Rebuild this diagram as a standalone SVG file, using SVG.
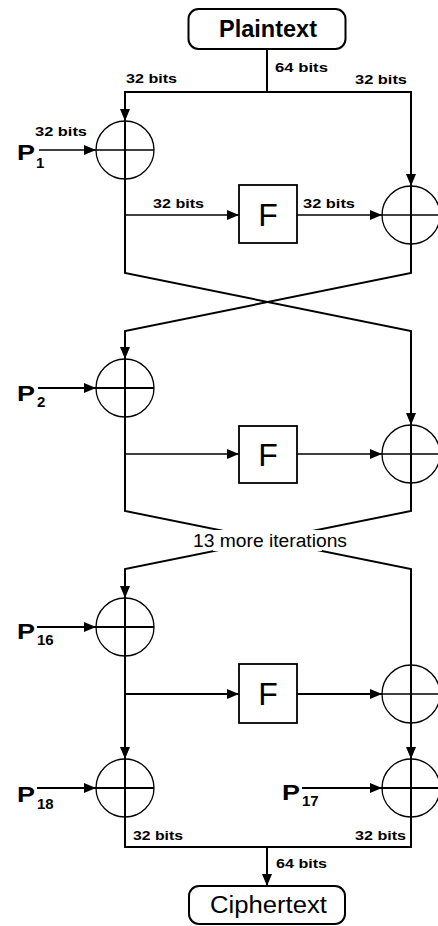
<svg xmlns="http://www.w3.org/2000/svg" width="438" height="926" viewBox="0 0 438 926">
<defs>
<marker id="arr" markerUnits="userSpaceOnUse" markerWidth="12" markerHeight="10" refX="12" refY="5" orient="auto">
<path d="M0,0 L12,5 L0,10 z" fill="#000"/>
</marker>
<style>
.bus{fill:none;stroke:#000;stroke-width:2;}
.thin{fill:none;stroke:#000;stroke-width:1.3;}
.xor{fill:none;stroke:#000;stroke-width:1.3;}
.box{fill:#fff;stroke:#000;stroke-width:1.8;}
.term{fill:#fff;stroke:#000;stroke-width:2;}
.lbl{font-family:"Liberation Sans",Arial,sans-serif;font-size:13px;font-weight:bold;fill:#000;}
.big{font-family:"Liberation Sans",Arial,sans-serif;font-size:23px;fill:#000;}
.f{font-family:"Liberation Sans",Arial,sans-serif;font-size:32px;fill:#000;text-anchor:middle;}
.p{font-family:"Liberation Sans",Arial,sans-serif;font-size:22px;font-weight:bold;fill:#000;}
.sub{font-family:"Liberation Sans",Arial,sans-serif;font-size:15px;font-weight:bold;fill:#000;}
.it{font-family:"Liberation Sans",Arial,sans-serif;font-size:18px;fill:#000;}
</style>
</defs>
<rect width="438" height="926" fill="#fff"/>

<g id="connectors">
<path class="bus" d="M267,49 V92"/>
<path class="bus" d="M267,92 H125 V121" marker-end="url(#arr)"/>
<path class="bus" d="M267,92 H411 V186" marker-end="url(#arr)"/>
<path class="bus" d="M125,121 V273 L411,331 V425" marker-end="url(#arr)"/>
<path class="bus" d="M411,186 V273 L125,331 V359" marker-end="url(#arr)"/>
<path class="bus" d="M125,359 V511 L411,569 V759" marker-end="url(#arr)"/>
<path class="bus" d="M411,425 V511 L125,569 V598" marker-end="url(#arr)"/>
<path class="bus" d="M125,598 V759" marker-end="url(#arr)"/>
<path class="bus" d="M125,759 V847 H411 V759"/>
<path class="bus" d="M267,847 V886" marker-end="url(#arr)"/>
<path class="thin" d="M125,215 H239" marker-end="url(#arr)"/>
<path class="thin" d="M297,215 H382" marker-end="url(#arr)"/>
<path class="thin" d="M125,454 H239" marker-end="url(#arr)"/>
<path class="thin" d="M297,454 H382" marker-end="url(#arr)"/>
<path class="bus" d="M125,694 H239" marker-end="url(#arr)"/>
<path class="bus" d="M297,694 H382" marker-end="url(#arr)"/>
<path class="thin" d="M39,150 H96" marker-end="url(#arr)"/>
<path class="bus" d="M38,388 H96" marker-end="url(#arr)"/>
<path class="bus" d="M37,627 H96" marker-end="url(#arr)"/>
<path class="bus" d="M37,788 H96" marker-end="url(#arr)"/>
<path class="bus" d="M302,788 H382" marker-end="url(#arr)"/>
</g>

<g id="plaintext">
<rect class="term" x="188.5" y="9" width="157" height="40" rx="10"/>
<text class="big" x="219" y="37" font-weight="bold" textLength="98" lengthAdjust="spacingAndGlyphs">Plaintext</text>
</g>

<g id="xor1L"><circle class="xor" cx="125" cy="150" r="29"/><path class="thin" d="M96,150 H154"/></g>
<g id="xor1R"><circle class="xor" cx="411" cy="215" r="29"/><path class="thin" d="M382,215 H440"/></g>
<g id="F1"><rect class="box" x="239" y="185" width="58" height="58"/><text class="f" x="268" y="226">F</text></g>

<g id="xor2L"><circle class="xor" cx="125" cy="388" r="29"/><path class="bus" d="M96,388 H154"/></g>
<g id="xor2R"><circle class="xor" cx="411" cy="454" r="29"/><path class="thin" d="M382,454 H440"/></g>
<g id="F2"><rect class="box" x="239" y="426" width="58" height="57"/><text class="f" x="268" y="466">F</text></g>

<g id="xor16L"><circle class="xor" cx="125" cy="627" r="29"/><path class="bus" d="M96,627 H154"/></g>
<g id="xor16R"><circle class="xor" cx="411" cy="694" r="29"/><path class="thin" d="M382,694 H440"/></g>
<g id="F16"><rect class="box" x="239" y="664" width="58" height="59"/><text class="f" x="268" y="705">F</text></g>

<g id="xor18"><circle class="xor" cx="125" cy="788" r="29"/><path class="bus" d="M96,788 H154"/></g>
<g id="xor17"><circle class="xor" cx="411" cy="788" r="29"/><path class="bus" d="M382,788 H440"/></g>

<g id="ciphertext">
<rect class="term" x="189" y="886" width="156" height="38" rx="10"/>
<text class="big" x="210" y="913" textLength="117" lengthAdjust="spacingAndGlyphs">Ciphertext</text>
</g>

<g id="labels">
<text class="lbl" x="126" y="83" textLength="51" lengthAdjust="spacingAndGlyphs">32 bits</text>
<text class="lbl" x="275" y="72" textLength="53" lengthAdjust="spacingAndGlyphs">64 bits</text>
<text class="lbl" x="355" y="84" textLength="52" lengthAdjust="spacingAndGlyphs">32 bits</text>
<text class="lbl" x="35" y="136" textLength="52" lengthAdjust="spacingAndGlyphs">32 bits</text>
<text class="lbl" x="153" y="208" textLength="51" lengthAdjust="spacingAndGlyphs">32 bits</text>
<text class="lbl" x="303" y="208" textLength="52" lengthAdjust="spacingAndGlyphs">32 bits</text>
<text class="lbl" x="133" y="840" textLength="50" lengthAdjust="spacingAndGlyphs">32 bits</text>
<text class="lbl" x="355" y="840" textLength="51" lengthAdjust="spacingAndGlyphs">32 bits</text>
<text class="lbl" x="276" y="868" textLength="51" lengthAdjust="spacingAndGlyphs">64 bits</text>
<rect x="213" y="530" width="109" height="21" fill="#fff"/>
<text class="it" x="193" y="547" textLength="154" lengthAdjust="spacingAndGlyphs">13 more iterations</text>
</g>

<g id="P1"><text class="p" x="17" y="160" textLength="18" lengthAdjust="spacingAndGlyphs">P</text><text class="sub" x="36" y="168">1</text></g>
<g id="P2"><text class="p" x="17" y="401" textLength="18" lengthAdjust="spacingAndGlyphs">P</text><text class="sub" x="37" y="407">2</text></g>
<g id="P16"><text class="p" x="17" y="639" textLength="18" lengthAdjust="spacingAndGlyphs">P</text><text class="sub" x="37" y="645">16</text></g>
<g id="P18"><text class="p" x="17" y="802" textLength="18" lengthAdjust="spacingAndGlyphs">P</text><text class="sub" x="37" y="809">18</text></g>
<g id="P17"><text class="p" x="282" y="800" textLength="18" lengthAdjust="spacingAndGlyphs">P</text><text class="sub" x="302" y="806">17</text></g>
</svg>
